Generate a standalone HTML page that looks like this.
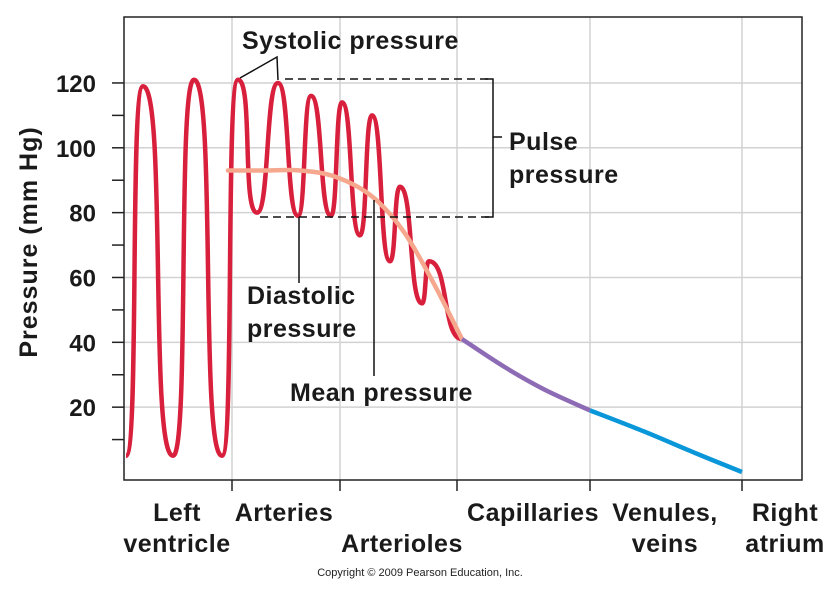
<!DOCTYPE html>
<html><head><meta charset="utf-8"><style>
body{margin:0;background:#fff}
svg{display:block;font-family:"Liberation Sans",Arial,sans-serif}
.lbl{font-weight:bold;font-size:25px;letter-spacing:0.5px;fill:#1a1a1a}
.tick{font-weight:bold;font-size:24px;fill:#1a1a1a}
</style></head><body>
<svg id="chart" width="839" height="589" viewBox="0 0 839 589" xmlns="http://www.w3.org/2000/svg">
<g id="grid"></g>
<g id="marks"></g>
<g id="annot">
  <polyline points="240,78 277,57 278,80" fill="none" stroke="#111" stroke-width="1.5"/>
  <line x1="285" y1="79" x2="493" y2="79" stroke="#111" stroke-width="1.5" stroke-dasharray="8,5"/>
  <line x1="260" y1="217" x2="493" y2="217" stroke="#111" stroke-width="1.5" stroke-dasharray="8,5"/>
  <polyline points="485,79 493,79 493,217 485,217" fill="none" stroke="#111" stroke-width="1.5"/>
  <line x1="493" y1="137" x2="502" y2="137" stroke="#111" stroke-width="1.5"/>
  <line x1="299" y1="217" x2="299" y2="283" stroke="#111" stroke-width="1.5"/>
  <line x1="374" y1="200" x2="374" y2="376" stroke="#111" stroke-width="1.5"/>
  <text class="lbl" x="242" y="49">Systolic pressure</text>
  <text class="lbl" x="509" y="150">Pulse</text>
  <text class="lbl" x="509" y="183">pressure</text>
  <text class="lbl" x="247" y="304">Diastolic</text>
  <text class="lbl" x="247" y="337">pressure</text>
  <text class="lbl" x="290" y="401">Mean pressure</text>
  <text class="lbl" transform="translate(37,242) rotate(-90)" text-anchor="middle" style="letter-spacing:1px">Pressure (mm Hg)</text>
  <text x="420" y="576" font-size="11" fill="#222" text-anchor="middle">Copyright © 2009 Pearson Education, Inc.</text>
</g>
</svg>
<script>
const yTicks=[20,40,60,80,100,120];
const yMinorTicks=[10,30,50,70,90,110];
const xTickPos=[108,216,333,466,618];
const categories=["Left\nventricle","Arteries","Arterioles","Capillaries","Venules,\nveins","Right\natrium"];
const categoryPos=[53,160,278,409,541,661];
const categoryLine=[0,0,1,0,0,0];
// red pressure wave: extrema (distance along circulation, mmHg)
const waveX=[2,19,49,70,98,114,133,154,174,187,207,218,236,248,266,276,298,305,338];
const waveP=[5,119,5,121,5,121,80,120,79,116,79,114,73,110,65,88,52,65,41];
const meanX=[104,140,176,212,248,280,310,338];
const meanP=[93,93,93,91,85,74,58,41];
const capX=[338,380,420,466];
const capP=[41,32.5,25.5,19];
const veinX=[466,520,570,618];
const veinP=[19,12.5,6,0];

const X0=124,X1=802,Y0=472,YTOP=17;
const x=d=>X0+d;
const y=v=>Y0-v*3.242;
const NS="http://www.w3.org/2000/svg";
const grid=document.getElementById('grid'),marks=document.getElementById('marks');
function mk(tag,attrs,parent){const e=document.createElementNS(NS,tag);for(const k in attrs)e.setAttribute(k,attrs[k]);parent.appendChild(e);return e;}

yTicks.forEach(t=>{
  const g=mk('line',{x1:X0,x2:X1,y1:y(t),y2:y(t),stroke:'#d2d2d2','stroke-width':1.5},grid);
  
  
  const tk=mk('line',{x1:X0-12,x2:X0,y1:y(t),y2:y(t),stroke:'#222','stroke-width':1.5},grid);
  
  
  const tx=mk('text',{x:96,y:y(t)+9,'text-anchor':'end',class:'tick'},grid);
  tx.textContent=t;
  
  
});
yMinorTicks.forEach(t=>{
  const tk=mk('line',{x1:X0-12,x2:X0,y1:y(t),y2:y(t),stroke:'#222','stroke-width':1.5},grid);
  
  
});
xTickPos.forEach(p=>{
  const g=mk('line',{x1:x(p),x2:x(p),y1:YTOP,y2:480,stroke:'#d2d2d2','stroke-width':1.5},grid);
  
  
  const tk=mk('line',{x1:x(p),x2:x(p),y1:480,y2:491,stroke:'#222','stroke-width':1.5},grid);
  
  
});
const fr=mk('rect',{x:X0,y:YTOP,width:X1-X0,height:480-YTOP,fill:'none',stroke:'#222','stroke-width':1.5},grid);


categories.forEach((c,i)=>{
  c.split('\n').forEach((s,j)=>{
    const t=mk('text',{x:x(categoryPos[i]),y:521+31*(j+categoryLine[i]),'text-anchor':'middle',class:'lbl'},grid);
    t.textContent=s;
    
    
  });
});

function wavePath(xs,ps){
  let d=`M${x(xs[0])},${y(ps[0])}`;
  for(let i=1;i<xs.length;i++){
    const f=i<=6?0.8:0.6;
    const x0=x(xs[i-1]),x1=x(xs[i]),y0=y(ps[i-1]),y1=y(ps[i]),dx=(x1-x0)*f;
    d+=` C${x0+dx},${y0} ${x1-dx},${y1} ${x1},${y1}`;
  }
  return d;
}
function catmull(xs,ps){
  const P=xs.map((v,i)=>[x(v),y(ps[i])]);
  let d=`M${P[0][0]},${P[0][1]}`;
  for(let i=0;i<P.length-1;i++){
    const p0=P[i-1]||P[i],p1=P[i],p2=P[i+1],p3=P[i+2]||P[i+1];
    d+=` C${p1[0]+(p2[0]-p0[0])/6},${p1[1]+(p2[1]-p0[1])/6} ${p2[0]-(p3[0]-p1[0])/6},${p2[1]-(p3[1]-p1[1])/6} ${p2[0]},${p2[1]}`;
  }
  return d;
}
const wave=mk('path',{d:wavePath(waveX,waveP),fill:'none',stroke:'#d81f3c','stroke-width':4.5,'stroke-linejoin':'round'},marks);


const mean=mk('path',{d:catmull(meanX,meanP),fill:'none',stroke:'#f5a88e','stroke-width':4.5,'stroke-linecap':'round'},marks);


const cap=mk('path',{d:catmull(capX,capP),fill:'none',stroke:'#8d6bb5','stroke-width':4.5},marks);


const vein=mk('path',{d:catmull(veinX,veinP),fill:'none',stroke:'#0a97d9','stroke-width':4.5},marks);


</script>
</body></html>
